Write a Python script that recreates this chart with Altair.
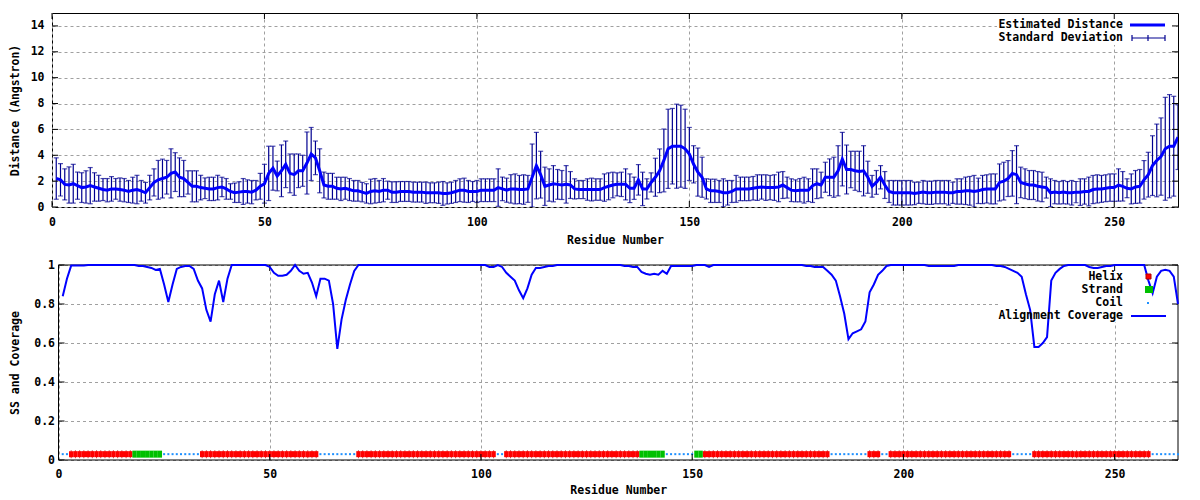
import altair as alt
import pandas as pd

FONT = "DejaVu Sans Mono"
FS = 11.5
BLUE = "#0000ff"
NAVY = "#000090"
RED = "#ff0000"
DARKRED = "#b00000"
GREEN = "#00c000"
COILBLUE = "#1e90ff"
GRID = "#a0a0a0"

RESIDUES = list(range(1, 266))

DIST = [
    2.2, 2.1, 1.75, 1.7, 1.8, 1.65, 1.5, 1.55, 1.65, 1.55,
    1.45, 1.35, 1.3, 1.4, 1.4, 1.35, 1.3, 1.2, 1.3, 1.35,
    1.25, 1.1, 1.5, 1.9, 2.1, 2.2, 2.3, 2.6, 2.7, 2.3,
    2.2, 1.9, 1.6, 1.6, 1.5, 1.45, 1.4, 1.4, 1.5, 1.55,
    1.4, 1.2, 1.1, 1.15, 1.2, 1.2, 1.15, 1.3, 1.6, 1.8,
    2.6, 3.0, 2.4, 2.8, 3.3, 2.6, 2.5, 2.8, 2.8, 3.4,
    4.1, 3.8, 2.8, 1.7, 1.6, 1.6, 1.45, 1.4, 1.45, 1.35,
    1.25, 1.25, 1.15, 1.05, 1.2, 1.25, 1.2, 1.3, 1.3, 1.15,
    1.15, 1.2, 1.2, 1.2, 1.15, 1.15, 1.15, 1.1, 1.1, 1.1,
    1.1, 1.05, 1.05, 1.1, 1.2, 1.3, 1.3, 1.2, 1.2, 1.2,
    1.3, 1.3, 1.3, 1.3, 1.5, 1.4, 1.3, 1.4, 1.4, 1.35,
    1.35, 1.4, 2.3, 3.2, 2.5, 1.6, 1.7, 1.8, 1.75, 1.7,
    1.75, 1.7, 1.4, 1.35, 1.35, 1.35, 1.35, 1.35, 1.35, 1.5,
    1.6, 1.7, 1.75, 1.75, 1.75, 1.45, 1.45, 2.1, 1.4, 1.4,
    1.9, 2.3, 2.8, 3.6, 4.5, 4.7, 4.7, 4.7, 4.5, 4.1,
    3.3, 2.7, 2.3, 1.4, 1.25, 1.25, 1.2, 1.1, 1.1, 1.2,
    1.4, 1.4, 1.4, 1.4, 1.45, 1.5, 1.55, 1.5, 1.5, 1.5,
    1.55, 1.7, 1.5, 1.3, 1.25, 1.3, 1.3, 1.3, 1.65, 1.8,
    1.7, 2.3, 2.3, 2.3, 2.8, 3.7, 2.9, 2.9, 2.8, 2.75,
    2.8, 2.3, 1.6, 1.9, 2.3, 1.7, 1.2, 1.1, 1.1, 1.1,
    1.1, 1.1, 1.05, 1.1, 1.15, 1.1, 1.1, 1.15, 1.15, 1.15,
    1.1, 1.1, 1.2, 1.2, 1.25, 1.25, 1.2, 1.25, 1.35, 1.4,
    1.4, 1.4, 1.9, 2.0, 2.2, 2.6, 2.5, 1.9, 1.8, 1.7,
    1.7, 1.6, 1.55, 1.5, 1.1, 1.15, 1.1, 1.15, 1.1, 1.1,
    1.15, 1.15, 1.2, 1.2, 1.35, 1.4, 1.4, 1.45, 1.5, 1.5,
    1.7, 1.6, 1.45, 1.4, 1.55, 1.6, 2.1, 2.5, 3.2, 3.6,
    3.9, 4.5, 4.7, 4.7, 5.4,
]

SD = [
    1.6, 1.25, 1.2, 1.4, 1.5, 1.05, 1.15, 1.25, 1.4, 1.1,
    1.0, 0.85, 0.9, 0.95, 0.8, 0.9, 0.9, 0.85, 1.0, 1.1,
    0.8, 0.8, 0.95, 1.05, 1.5, 1.5, 1.3, 1.9, 1.5, 1.5,
    1.4, 0.9, 1.2, 1.2, 0.95, 0.8, 0.9, 0.9, 0.95, 0.75,
    0.8, 0.6, 0.75, 0.8, 1.0, 0.9, 0.9, 0.75, 1.0, 1.5,
    2.1, 1.7, 1.15, 2.0, 1.8, 1.5, 1.6, 1.3, 1.2, 2.4,
    2.05, 1.3, 1.7, 1.0, 1.0, 1.0, 0.85, 0.9, 0.85, 0.85,
    0.8, 0.8, 0.75, 0.75, 0.95, 0.95, 0.85, 0.9, 0.7, 0.8,
    0.8, 0.77, 0.77, 0.77, 0.77, 0.77, 0.77, 0.82, 0.77, 0.77,
    0.82, 0.92, 0.82, 0.82, 0.85, 0.88, 0.93, 0.85, 0.77, 0.85,
    0.88, 0.88, 0.88, 0.88, 1.45, 0.91, 0.93, 1.1, 1.16, 1.09,
    1.14, 1.04, 2.57, 2.57, 1.81, 1.48, 1.25, 1.4, 1.15, 1.12,
    1.45, 1.04, 0.78, 0.7, 0.7, 0.83, 0.88, 0.83, 0.83, 1.06,
    1.04, 0.99, 0.89, 0.94, 1.2, 1.11, 0.86, 1.18, 1.29, 0.78,
    0.74, 1.47, 1.69, 2.43, 3.06, 2.92, 3.25, 3.17, 3.06, 2.05,
    1.44, 1.86, 1.55, 0.78, 0.9, 0.9, 0.85, 1.08, 0.95, 0.85,
    1.04, 0.91, 0.91, 0.91, 0.91, 0.99, 0.94, 0.99, 0.94, 0.99,
    1.14, 1.04, 0.81, 0.88, 0.85, 0.9, 1.0, 0.88, 1.3, 1.15,
    0.99, 1.16, 1.42, 1.55, 1.94, 2.07, 1.89, 1.41, 1.51, 1.56,
    1.94, 1.24, 0.84, 0.92, 0.9, 1.04, 0.85, 0.95, 0.95, 0.95,
    0.95, 0.95, 0.87, 0.82, 0.9, 0.9, 0.9, 0.9, 0.9, 0.9,
    0.95, 0.82, 0.98, 0.98, 1.06, 1.11, 1.24, 0.98, 1.09, 1.09,
    1.16, 1.16, 1.43, 1.46, 1.39, 1.76, 2.24, 1.18, 1.15, 1.12,
    1.12, 1.14, 1.14, 0.81, 1.08, 0.9, 0.87, 0.9, 0.87, 0.95,
    0.82, 1.03, 0.98, 1.11, 1.09, 1.09, 1.04, 1.04, 1.06, 1.06,
    1.25, 1.14, 0.73, 1.16, 1.27, 1.3, 1.49, 1.73, 2.31, 2.81,
    2.99, 3.98, 3.99, 3.86, 2.5,
]

COVERAGE = [
    0.84, 0.93, 0.997, 0.997, 0.997, 0.997, 1.0, 1.0, 1.0, 1.0,
    1.0, 1.0, 1.0, 1.0, 1.0, 1.0, 1.0, 1.0, 0.995, 0.995,
    0.99, 0.985, 0.975, 0.98, 0.9, 0.81, 0.9, 0.98, 0.99, 0.995,
    0.995, 0.98, 0.92, 0.88, 0.77, 0.71, 0.85, 0.92, 0.81, 0.93,
    1.0, 1.0, 1.0, 1.0, 1.0, 1.0, 1.0, 1.0, 1.0, 0.99,
    0.96, 0.945, 0.945, 0.95, 0.97, 1.0, 0.97, 0.955, 0.96, 0.91,
    0.84, 0.93, 0.93, 0.92, 0.8, 0.57, 0.72, 0.82, 0.9, 0.97,
    1.0, 1.0, 1.0, 1.0, 1.0, 1.0, 1.0, 1.0, 1.0, 1.0,
    1.0, 1.0, 1.0, 1.0, 1.0, 1.0, 1.0, 1.0, 1.0, 1.0,
    1.0, 1.0, 1.0, 1.0, 1.0, 1.0, 1.0, 1.0, 1.0, 1.0,
    1.0, 0.99, 0.99, 1.0, 0.99, 0.96, 0.94, 0.92, 0.87, 0.83,
    0.88, 0.95, 0.985, 0.985, 0.99, 0.995, 0.995, 1.0, 1.0, 1.0,
    1.0, 1.0, 1.0, 1.0, 1.0, 1.0, 1.0, 1.0, 1.0, 1.0,
    1.0, 1.0, 1.0, 0.995, 0.995, 0.99, 0.99, 0.965, 0.955, 0.95,
    0.955, 0.95, 0.97, 0.955, 0.995, 0.995, 0.995, 0.995, 0.995, 0.995,
    1.0, 1.0, 1.0, 0.99, 1.0, 1.0, 1.0, 1.0, 1.0, 1.0,
    1.0, 1.0, 1.0, 1.0, 1.0, 1.0, 1.0, 1.0, 1.0, 1.0,
    1.0, 1.0, 1.0, 1.0, 1.0, 1.0, 0.995, 0.995, 0.99, 0.99,
    0.99, 0.97, 0.95, 0.92, 0.84, 0.75, 0.62, 0.65, 0.66, 0.67,
    0.71, 0.86, 0.9, 0.95, 0.97, 0.995, 1.0, 1.0, 1.0, 1.0,
    1.0, 1.0, 1.0, 1.0, 1.0, 0.995, 0.995, 0.995, 0.995, 0.995,
    0.995, 0.995, 1.0, 1.0, 1.0, 1.0, 1.0, 1.0, 1.0, 1.0,
    1.0, 0.995, 0.995, 0.99, 0.98, 0.97, 0.96, 0.94, 0.85, 0.77,
    0.58, 0.58, 0.6, 0.63, 0.92, 0.96, 0.98, 0.995, 1.0, 1.0,
    1.0, 1.0, 1.0, 0.99, 0.985, 0.985, 0.99, 0.995, 0.995, 1.0,
    1.0, 1.0, 1.0, 1.0, 1.0, 1.0, 1.0, 0.92, 0.855, 0.94,
    0.97, 0.975, 0.97, 0.94, 0.8,
]

# secondary structure segments: type, first residue, last residue
SS_TYPE = ["C", "H", "E", "E", "C", "H", "C", "H", "C", "H", "E", "C", "E",
           "H", "C", "H", "C", "H", "C", "H", "C"]
SS_START = [1, 3, 18, 23, 25, 34, 62, 71, 104, 106, 138, 144, 151,
            153, 183, 192, 195, 197, 226, 231, 259]
SS_END = [2, 17, 22, 24, 33, 61, 70, 103, 105, 137, 143, 150, 152,
          182, 191, 194, 196, 225, 230, 258, 265]
SS_LEVEL = 0.03

X_TICKS = [0, 50, 100, 150, 200, 250]
Y1_TICKS = [0, 2, 4, 6, 8, 10, 12, 14]
Y2_TICKS = [0, 0.2, 0.4, 0.6, 0.8, 1]

df = pd.DataFrame({"res": RESIDUES, "dist": DIST, "sd": SD, "cov": COVERAGE})

ss_rows = []
for t, s, e in zip(SS_TYPE, SS_START, SS_END):
    for r in range(s, e + 1):
        ss_rows.append({"res": r, "ss": t})
ss_df = pd.DataFrame(ss_rows)
one = pd.DataFrame({"k": [0]})
xt_df = pd.DataFrame({"v": X_TICKS})
y1t_df = pd.DataFrame({"v": Y1_TICKS})
y2t_df = pd.DataFrame({"v": Y2_TICKS})

W = 1126          # width of both panels
SHIFT = 6.5       # bottom plot frame starts this far right of the top one
TOP_H, BOT_H = 194, 195
TL = 6            # inward tick length (gnuplot style)


def xaxis(lp, tp):
    return alt.Axis(values=X_TICKS, title="Residue Number", labelFlush=False,
                    labelOverlap=False, tickCount=50, format="~g", labelPadding=lp,
                    titlePadding=tp, grid=True)


def label(txt, x, y):
    return alt.Chart(one).mark_text(
        text=txt, align="right", baseline="middle", font=FONT,
        fontWeight="bold", fontSize=FS, color="black"
    ).encode(x=alt.value(x), y=alt.value(y))


def hrule(x1, x2, y, color, w):
    return alt.Chart(one).mark_rule(color=color, strokeWidth=w).encode(
        x=alt.value(x1), x2=alt.value(x2), y=alt.value(y))


def vrule(x, y1, y2, color, w):
    return alt.Chart(one).mark_rule(color=color, strokeWidth=w).encode(
        x=alt.value(x), y=alt.value(y1), y2=alt.value(y2))


def box(x1, x2, y1, y2, color, stroke=None):
    kw = {"color": color}
    if stroke:
        kw["stroke"] = stroke
        kw["strokeWidth"] = 1
    return alt.Chart(one).mark_rect(**kw).encode(
        x=alt.value(x1), x2=alt.value(x2), y=alt.value(y1), y2=alt.value(y2))


def inward_ticks(xs, ys, x0, x1, h):
    """gnuplot-like ticks drawn inside the frame on all four sides."""
    tk = dict(color="black", strokeWidth=1)
    out = []
    yt = alt.Chart(ys[0])
    out.append(yt.mark_rule(**tk).encode(x=alt.value(x0), x2=alt.value(x0 + TL),
                                         y=alt.Y("v:Q", scale=ys[1], axis=ys[2])))
    out.append(yt.mark_rule(**tk).encode(x=alt.value(x1 - TL), x2=alt.value(x1),
                                         y=alt.Y("v:Q", scale=ys[1], axis=ys[2])))
    xt = alt.Chart(xs[0])
    out.append(xt.mark_rule(**tk).encode(x=alt.X("v:Q", scale=xs[1], axis=xs[2]),
                                         y=alt.value(h - TL), y2=alt.value(h)))
    out.append(xt.mark_rule(**tk).encode(x=alt.X("v:Q", scale=xs[1], axis=xs[2]),
                                         y=alt.value(0), y2=alt.value(TL)))
    return out


# ---------------- top panel ----------------
xscale1 = alt.Scale(domain=[0, 265], nice=False, zero=False)
yscale1 = alt.Scale(domain=[0, 15], nice=False, zero=True)
xaxis1 = xaxis(9, 7)
yaxis1 = alt.Axis(values=Y1_TICKS, title="Distance (Angstron)", grid=True, format="~g",
                  labelOverlap=False, tickCount=50, labelPadding=8, titlePadding=10)

err = alt.Chart(df).transform_calculate(
    lo="max(0, datum.dist - datum.sd)", hi="datum.dist + datum.sd")

top_bg = box(945, W - 2, 1, 32, "white")
err_rule = err.mark_rule(color=NAVY, strokeWidth=1.2, clip=True).encode(
    x=alt.X("res:Q", scale=xscale1, axis=xaxis1),
    y=alt.Y("lo:Q", scale=yscale1, axis=yaxis1),
    y2="hi:Q")
cap_lo = err.mark_tick(orient="horizontal", size=5, thickness=1.2, color=NAVY,
                       clip=True).encode(x="res:Q", y="lo:Q")
cap_hi = err.mark_tick(orient="horizontal", size=5, thickness=1.2, color=NAVY,
                       clip=True).encode(x="res:Q", y="hi:Q")
dist_line = alt.Chart(df).mark_line(color=BLUE, strokeWidth=3, clip=True).encode(
    x="res:Q", y="dist:Q")

top_legend = [
    label("Estimated Distance", 1071, 12),
    hrule(1078, 1113, 12, BLUE, 3),
    label("Standard Deviation", 1071, 25),
    hrule(1080, 1113, 25, NAVY, 1.2),
    vrule(1080, 22, 28, NAVY, 1.2),
    vrule(1113, 22, 28, NAVY, 1.2),
    vrule(1096, 22, 28, NAVY, 1.2),
]

top = alt.layer(
    top_bg, err_rule, cap_lo, cap_hi, dist_line,
    *inward_ticks((xt_df, xscale1, xaxis1), (y1t_df, yscale1, yaxis1), 0, W, TOP_H),
    *top_legend
).properties(width=W, height=TOP_H)

# ---------------- bottom panel ----------------
xscale2 = alt.Scale(domain=[0, 265], nice=False, zero=False, range=[SHIFT, W])
yscale2 = alt.Scale(domain=[0, 1], nice=False, zero=True)
xaxis2 = xaxis(8, 5)
yaxis2 = alt.Axis(values=Y2_TICKS, title="SS and Coverage", grid=True, format="~g",
                  labelOverlap=False, tickCount=50, offset=-SHIFT,
                  labelPadding=4, titlePadding=13.5)

ss = alt.Chart(ss_df).transform_calculate(lvl=str(SS_LEVEL))
bot_bg = box(946, W - 2, 1, 57, "white")
frame = [
    vrule(SHIFT, 0, BOT_H, "black", 1),
    vrule(W, 0, BOT_H, "black", 1),
    hrule(SHIFT, W, 0, "black", 1),
    hrule(SHIFT, W, BOT_H, "black", 1),
]
coil = ss.transform_filter(alt.datum.ss == "C").mark_square(
    size=4, color=COILBLUE, opacity=1).encode(
    x=alt.X("res:Q", scale=xscale2, axis=xaxis2),
    y=alt.Y("lvl:Q", scale=yscale2, axis=yaxis2))
helix_notch = ss.transform_filter(alt.datum.ss == "H").mark_tick(
    orient="vertical", size=8, thickness=1, color=DARKRED).encode(x="res:Q", y="lvl:Q")
helix = ss.transform_filter(alt.datum.ss == "H").mark_tick(
    orient="vertical", size=6, thickness=4.3, color=RED, opacity=1).encode(x="res:Q", y="lvl:Q")
strand = ss.transform_filter(alt.datum.ss == "E").mark_tick(
    orient="vertical", size=7, thickness=4.3, color=GREEN, opacity=1).encode(x="res:Q", y="lvl:Q")
cov_line = alt.Chart(df).mark_line(color=BLUE, strokeWidth=2).encode(
    x="res:Q", y="cov:Q")

bot_legend = [
    label("Helix", 1071, 12),
    box(1094, 1099, 9, 14, RED, stroke=DARKRED),
    label("Strand", 1071, 25),
    box(1093, 1101, 21, 28, GREEN),
    label("Coil", 1071, 38),
    box(1095, 1097, 37, 39, COILBLUE),
    label("Alignment Coverage", 1071, 51),
    hrule(1079, 1114, 51, BLUE, 2),
]

bottom = alt.layer(
    bot_bg, *frame, coil, helix_notch, helix, strand,
    *inward_ticks((xt_df, xscale2, xaxis2), (y2t_df, yscale2, yaxis2), SHIFT, W, BOT_H),
    cov_line, *bot_legend
).properties(width=W, height=BOT_H, view=alt.ViewBackground(stroke="transparent"))

chart = alt.vconcat(top, bottom, spacing=11).properties(
    padding={"left": 0, "top": 4, "right": 0, "bottom": 0}
).configure_view(
    stroke="black", strokeWidth=1
).configure_axis(
    labelFont=FONT, labelFontSize=FS, labelFontWeight="bold", labelColor="black",
    titleFont=FONT, titleFontSize=FS, titleFontWeight="bold", titleColor="black",
    domain=False, ticks=False, tickSize=0,
    gridColor=GRID, gridDash=[3, 3], gridWidth=1, gridOpacity=1,
)

chart.save("out.html", embed_options={"renderer": "svg", "actions": False})
